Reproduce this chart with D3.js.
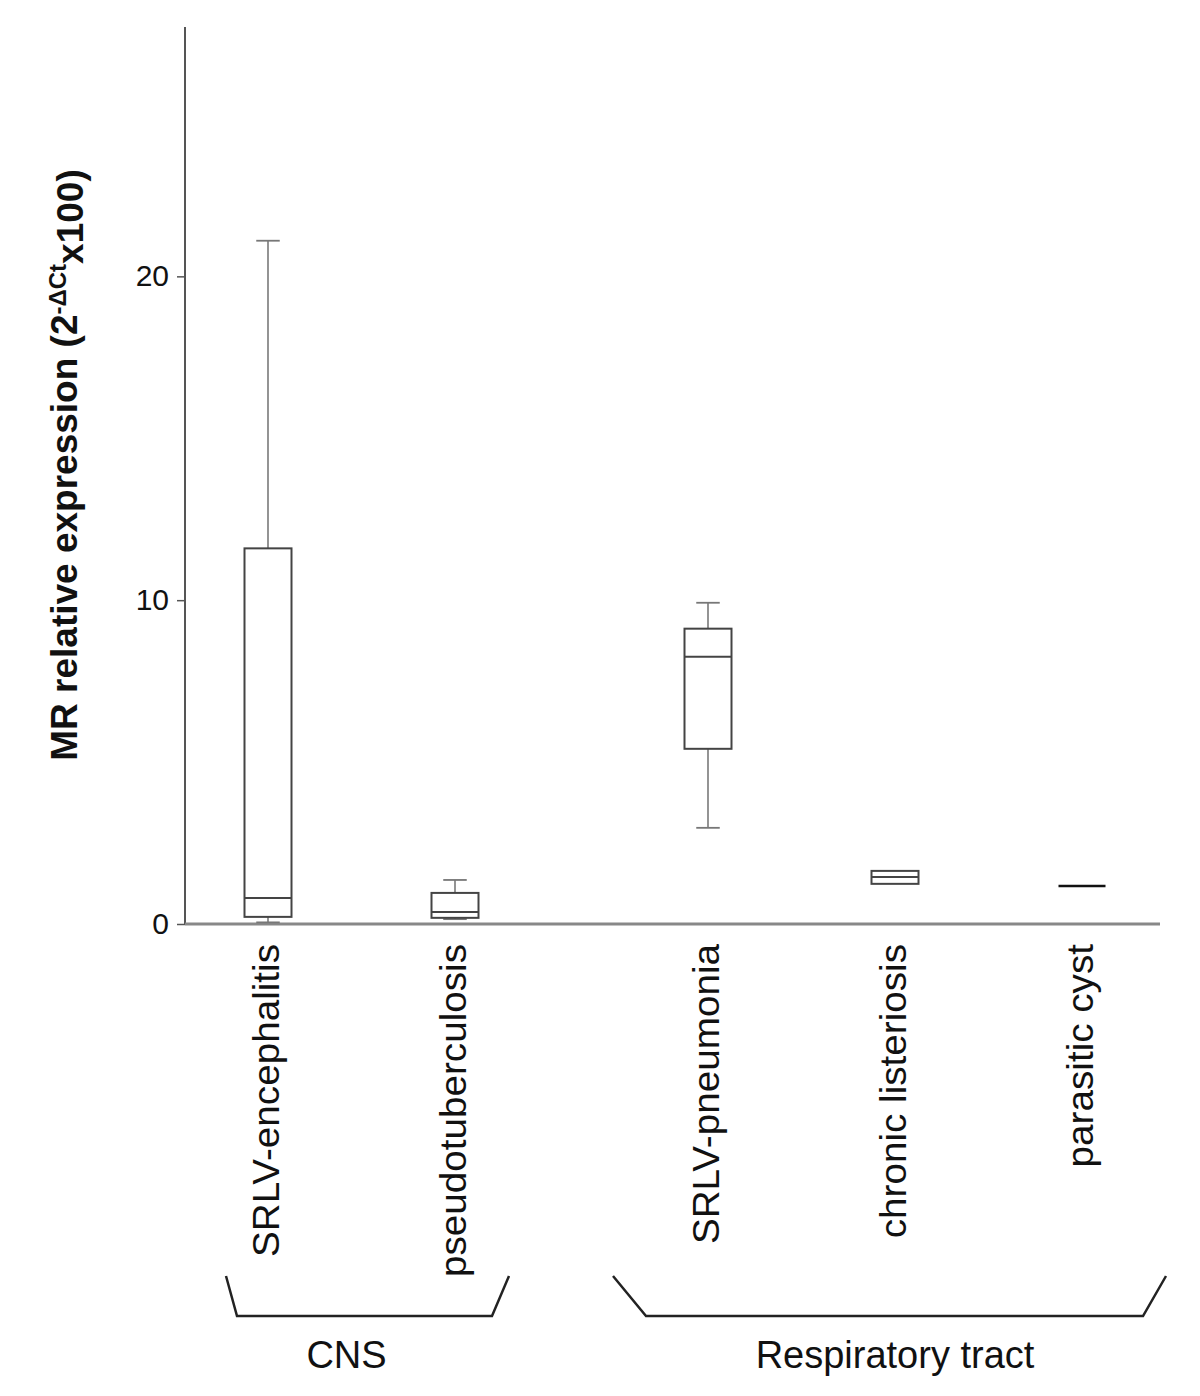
<!DOCTYPE html>
<html>
<head>
<meta charset="utf-8">
<script src="https://cdn.jsdelivr.net/npm/d3@7"></script>
<style>
  body { margin: 0; background: #fff; }
  text { font-family: "Liberation Sans", Arial, sans-serif; fill: #111; }
</style>
</head>
<body>
<div id="chart"></div>
<script>
// data
const categories = ["SRLV-encephalitis", "pseudotuberculosis", "SRLV-pneumonia", "chronic listeriosis", "parasitic cyst"];
const groupOf = ["CNS", "CNS", "Respiratory tract", "Respiratory tract", "Respiratory tract"];
const groups = ["CNS", "Respiratory tract"];
const whiskerLow = [0.05, 0.15, 2.97, 1.24, 1.17];
const q1 = [0.22, 0.19, 5.41, 1.24, 1.17];
const median = [0.80, 0.37, 8.25, 1.45, 1.17];
const q3 = [11.6, 0.96, 9.12, 1.64, 1.17];
const whiskerHigh = [21.1, 1.36, 9.92, 1.64, 1.17];
const yTicks = [0, 10, 20];

const svgWidth = 1200,
    svgHeight = 1396,
    margin = { top: 27, right: 40, bottom: 472, left: 185 },
    width = svgWidth - margin.left - margin.right,
    height = svgHeight - margin.top - margin.bottom;

const boxWidth = 47,
    groupGap = 66;

let svg = d3.select("#chart").append("svg")
    .attr("width", svgWidth)
    .attr("height", svgHeight);
let g = svg.append("g")
    .attr("transform", `translate(${margin.left},${margin.top})`);

// scales
let yScale = d3.scaleLinear()
    .domain([0, 27.7])
    .range([height, 0]);
let xPoint = d3.scalePoint()
    .domain(categories)
    .range([83, 83 + 4 * 187]);
// extra space between the two tissue groups
let xPos = (i) => xPoint(categories[i]) + groups.indexOf(groupOf[i]) * groupGap;

// y axis
let yAxis = g.append("g")
    .call(d3.axisLeft(yScale).tickValues(yTicks).tickSize(8).tickPadding(8).tickFormat(d3.format("d")));
yAxis.select(".domain").remove();
yAxis.selectAll(".tick line").attr("stroke", "#555").attr("stroke-width", 1.5);
yAxis.selectAll(".tick text")
    .style("font-size", "30px")
    .attr("fill", "#111");
g.append("line")
    .attr("x1", 0).attr("x2", 0)
    .attr("y1", 0).attr("y2", height)
    .attr("stroke", "#555")
    .attr("stroke-width", 2);

// x axis line
g.append("line")
    .attr("x1", 0).attr("x2", width)
    .attr("y1", height).attr("y2", height)
    .attr("stroke", "#888")
    .attr("stroke-width", 3);

// y axis title
let title = svg.append("text")
    .attr("transform", `translate(77, 465) rotate(-90)`)
    .attr("text-anchor", "middle")
    .style("font-size", "37px")
    .style("font-weight", "bold");
title.append("tspan").text("MR relative expression (2");
title.append("tspan").attr("dy", "-0.45em").style("font-size", "24px").text("-\u0394Ct");
title.append("tspan").attr("dy", "0.45em").text("x100)");

// boxes
let boxes = g.selectAll(".box")
    .data(categories.map((c, i) => i))
    .join("g")
    .attr("class", "box")
    .attr("transform", (i) => `translate(${xPos(i)},0)`);

// whiskers
boxes.filter((i) => whiskerHigh[i] > q3[i])
    .each(function (i) {
        let b = d3.select(this);
        b.append("line")
            .attr("x1", 0).attr("x2", 0)
            .attr("y1", yScale(q3[i])).attr("y2", yScale(whiskerHigh[i]))
            .attr("stroke", "#888").attr("stroke-width", 1.8);
        b.append("line")
            .attr("x1", -boxWidth / 4).attr("x2", boxWidth / 4)
            .attr("y1", yScale(whiskerHigh[i])).attr("y2", yScale(whiskerHigh[i]))
            .attr("stroke", "#777").attr("stroke-width", 1.8);
    });
boxes.filter((i) => whiskerLow[i] < q1[i])
    .each(function (i) {
        let b = d3.select(this);
        b.append("line")
            .attr("x1", 0).attr("x2", 0)
            .attr("y1", yScale(q1[i])).attr("y2", yScale(whiskerLow[i]))
            .attr("stroke", "#888").attr("stroke-width", 1.8);
        b.append("line")
            .attr("x1", -boxWidth / 4).attr("x2", boxWidth / 4)
            .attr("y1", yScale(whiskerLow[i])).attr("y2", yScale(whiskerLow[i]))
            .attr("stroke", "#777").attr("stroke-width", 1.8);
    });

// box body
boxes.filter((i) => q3[i] > q1[i])
    .append("rect")
    .attr("x", -boxWidth / 2)
    .attr("width", boxWidth)
    .attr("y", (i) => yScale(q3[i]))
    .attr("height", (i) => yScale(q1[i]) - yScale(q3[i]))
    .attr("fill", "#fff")
    .attr("stroke", "#444")
    .attr("stroke-width", 2);

// median
boxes.append("line")
    .attr("x1", -boxWidth / 2).attr("x2", boxWidth / 2)
    .attr("y1", (i) => yScale(median[i])).attr("y2", (i) => yScale(median[i]))
    .attr("stroke", (i) => q3[i] > q1[i] ? "#444" : "#111")
    .attr("stroke-width", (i) => q3[i] > q1[i] ? 2 : 2.5);

// category labels (the figure's text is drawn a bit elongated)
g.selectAll(".cat-label")
    .data(categories.map((c, i) => i))
    .join("text")
    .attr("class", "cat-label")
    .attr("transform", (i) => `translate(${xPos(i) + 11}, ${height + 20}) rotate(-90) scale(1.045, 1)`)
    .attr("text-anchor", "end")
    .style("font-size", "37px")
    .text((i) => categories[i]);

// group brackets (shape tuned to the figure)
const bracketShape = {
    "CNS": { outL: 42, inL: 31, inR: 37, outR: 54 },
    "Respiratory tract": { outL: 95, inL: 62, inR: 61, outR: 84 }
};
const bracketTop = height + 352,
    bracketBottom = height + 392;

groups.forEach((grp) => {
    let idx = categories.map((c, i) => i).filter((i) => groupOf[i] === grp);
    let first = xPos(idx[0]), last = xPos(idx[idx.length - 1]);
    let s = bracketShape[grp];
    let pts = [
        [first - s.outL, bracketTop],
        [first - s.inL, bracketBottom],
        [last + s.inR, bracketBottom],
        [last + s.outR, bracketTop]
    ];
    g.append("path")
        .attr("d", d3.line()(pts))
        .attr("fill", "none")
        .attr("stroke", "#222")
        .attr("stroke-width", 2.5);
    g.append("text")
        .attr("x", (first + last) / 2 - (grp === "CNS" ? 15 : 0))
        .attr("y", height + 444)
        .attr("text-anchor", "middle")
        .style("font-size", "38px")
        .text(grp);
});
</script>
</body>
</html>
